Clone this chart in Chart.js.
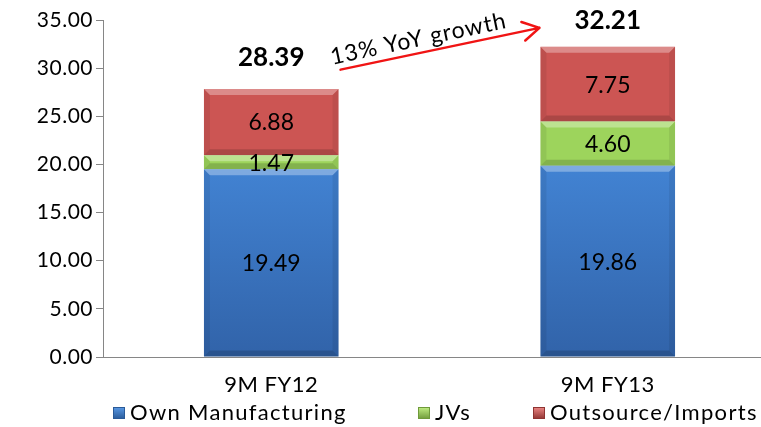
<!DOCTYPE html>
<html>
<head>
<meta charset="utf-8">
<script src="https://cdn.jsdelivr.net/npm/chart.js@4.4.1/dist/chart.umd.min.js"></script>
<style>
  html, body { margin: 0; padding: 0; background: #fff; overflow: hidden; }
  #wrap { width: 780px; height: 427px; }
</style>
</head>
<body>
<div id="wrap"><canvas id="grafico"></canvas></div>
<script>
// Dados
const categorias = ['9M FY12', '9M FY13'];
const ownManufacturing = [19.49, 19.86];
const jvs = [1.47, 4.60];
const outsource = [6.88, 7.75];
const totais = [28.39, 32.21];
const textoCrescimento = '13% YoY growth';

const FONTE = 'Lato, "DejaVu Sans", sans-serif';
const COR_EIXO = '#868686';
const LEGENDA_X = [113, 418, 533];

// Relevo dos segmentos (efeito bisel do Excel)
function desenharBisel(ctx, x, y, base, w) {
  const l = x - w / 2, r = x + w / 2;
  const t = Math.min(y, base), b = Math.max(y, base);
  const h = b - t;
  const e = Math.min(6, h / 2);
  ctx.save();
  ctx.fillStyle = 'rgba(255,255,255,0.32)';
  ctx.beginPath();
  ctx.moveTo(l, t); ctx.lineTo(r, t); ctx.lineTo(r - e, t + e); ctx.lineTo(l + e, t + e);
  ctx.closePath(); ctx.fill();
  ctx.fillStyle = 'rgba(0,0,0,0.16)';
  ctx.beginPath();
  ctx.moveTo(l, b); ctx.lineTo(r, b); ctx.lineTo(r - e, b - e); ctx.lineTo(l + e, b - e);
  ctx.closePath(); ctx.fill();
  ctx.fillStyle = 'rgba(0,0,0,0.07)';
  ctx.beginPath();
  ctx.moveTo(l, t); ctx.lineTo(l + e, t + e); ctx.lineTo(l + e, b - e); ctx.lineTo(l, b);
  ctx.closePath(); ctx.fill();
  ctx.beginPath();
  ctx.moveTo(r, t); ctx.lineTo(r - e, t + e); ctx.lineTo(r - e, b - e); ctx.lineTo(r, b);
  ctx.closePath(); ctx.fill();
  ctx.restore();
}

const rotulosPlugin = {
  id: 'rotulos',
  beforeDraw(chart) {
    chart.ctx.letterSpacing = '0.5px';
  },
  afterDatasetsDraw(chart) {
    const ctx = chart.ctx;
    const yScale = chart.scales.y;

    chart.data.datasets.forEach((ds, i) => {
      chart.getDatasetMeta(i).data.forEach(bar => {
        const p = bar.getProps(['x', 'y', 'base', 'width'], true);
        desenharBisel(ctx, p.x, p.y, p.base, p.width);
      });
    });

    // valores dentro dos segmentos
    ctx.save();
    ctx.letterSpacing = '0px';
    ctx.font = '23px ' + FONTE;
    ctx.fillStyle = '#000';
    ctx.textAlign = 'center';
    ctx.textBaseline = 'middle';
    chart.data.datasets.forEach((ds, i) => {
      chart.getDatasetMeta(i).data.forEach((bar, j) => {
        const p = bar.getProps(['x', 'y', 'base'], true);
        ctx.fillText(ds.data[j].toFixed(2), p.x, (p.y + p.base) / 2 + 1);
      });
    });

    // totais acima das barras
    ctx.font = 'bold 26px ' + FONTE;
    const barras = chart.getDatasetMeta(0).data;
    totais.forEach((t, j) => {
      ctx.fillText(t.toFixed(2), barras[j].x, yScale.getPixelForValue(t) - 26);
    });
    ctx.restore();
  },
  afterDraw(chart) {
    const ctx = chart.ctx;
    const yScale = chart.scales.y;
    const b = chart.getDatasetMeta(0).data;
    const x1 = b[0].x + b[0].width / 2 + 2;
    const y1 = yScale.getPixelForValue(totais[0]) - 14;
    const x2 = b[1].x - b[1].width / 2 - 1;
    const y2 = yScale.getPixelForValue(totais[1]) - 19;
    const ang = Math.atan2(y2 - y1, x2 - x1);

    ctx.save();
    ctx.strokeStyle = '#f01414';
    ctx.lineWidth = 2.5;
    ctx.lineCap = 'round';
    ctx.beginPath();
    ctx.moveTo(x1, y1);
    ctx.lineTo(x2, y2);
    const L = 19;
    [Math.PI / 6, -Math.PI / 6].forEach(d => {
      ctx.moveTo(x2, y2);
      ctx.lineTo(x2 - L * Math.cos(ang + d), y2 - L * Math.sin(ang + d));
    });
    ctx.stroke();

    ctx.translate((x1 + x2) / 2, (y1 + y2) / 2);
    ctx.rotate(ang);
    ctx.font = '23px ' + FONTE;
    ctx.letterSpacing = '1px';
    ctx.fillStyle = '#000';
    ctx.textAlign = 'center';
    ctx.textBaseline = 'middle';
    ctx.fillText(textoCrescimento, -19, -14);
    ctx.restore();

    // legenda
    ctx.save();
    ctx.font = '22px ' + FONTE;
    ctx.letterSpacing = '1.3px';
    ctx.textBaseline = 'middle';
    ctx.textAlign = 'left';
    const yL = 413;
    chart.data.datasets.forEach((ds, i) => {
      const x = LEGENDA_X[i];
      const g = ctx.createLinearGradient(x, yL - 6, x, yL + 6);
      g.addColorStop(0, ds.corClara);
      g.addColorStop(1, ds.corEscura);
      ctx.fillStyle = g;
      ctx.fillRect(x, yL - 6, 12, 12);
      ctx.strokeStyle = ds.corEscura;
      ctx.lineWidth = 1;
      ctx.strokeRect(x + 0.5, yL - 5.5, 11, 11);
      ctx.fillStyle = '#000';
      ctx.fillText(ds.label, x + 17, yL);
    });
    ctx.restore();
  }
};

// gradiente vertical sobre a área do gráfico
function gradiente(stops) {
  return context => {
    const area = context.chart.chartArea;
    if (!area) return stops[0][1];
    const g = context.chart.ctx.createLinearGradient(0, area.top, 0, area.bottom);
    stops.forEach(s => g.addColorStop(s[0], s[1]));
    return g;
  };
}

const dados = {
  labels: categorias,
  datasets: [
    {
      label: 'Own Manufacturing', data: ownManufacturing,
      backgroundColor: gradiente([[0, '#4587d8'], [0.43, '#4283d3'], [1, '#3163a9']]),
      corClara: '#5a9ae6', corEscura: '#2a5a98'
    },
    {
      label: 'JVs', data: jvs,
      backgroundColor: '#9dd45c',
      corClara: '#c2ef84', corEscura: '#6f9a3a'
    },
    {
      label: 'Outsource/Imports', data: outsource,
      backgroundColor: '#cc5553',
      corClara: '#ee8886', corEscura: '#8f3432'
    }
  ]
};

dados.datasets.forEach(ds => {
  ds.borderWidth = 0;
  ds.barPercentage = 0.4;
  ds.categoryPercentage = 1.0;
});

new Chart(document.getElementById('grafico'), {
  type: 'bar',
  data: dados,
  options: {
    responsive: true,
    maintainAspectRatio: false,
    devicePixelRatio: 1,
    animation: false,
    layout: { padding: { left: 0, right: 4, top: 20, bottom: 30 } },
    plugins: {
      legend: { display: false },
      tooltip: { enabled: false }
    },
    scales: {
      x: {
        stacked: true,
        grid: { display: false, drawTicks: false },
        border: { display: true, color: COR_EIXO, width: 1 },
        ticks: { color: '#000', padding: 15, font: { family: FONTE, size: 22 } },
        afterFit: s => { s.height = 40; }
      },
      y: {
        stacked: true,
        min: 0,
        max: 35,
        grid: { display: true, drawOnChartArea: false, drawTicks: true, tickLength: 7, color: COR_EIXO },
        border: { display: true, color: COR_EIXO, width: 1 },
        ticks: {
          stepSize: 5,
          padding: 3,
          color: '#000',
          font: { family: FONTE, size: 21 },
          callback: v => v.toFixed(2)
        },
        afterFit: s => { s.width = 103; }
      }
    }
  },
  plugins: [rotulosPlugin]
});
</script>
</body>
</html>
